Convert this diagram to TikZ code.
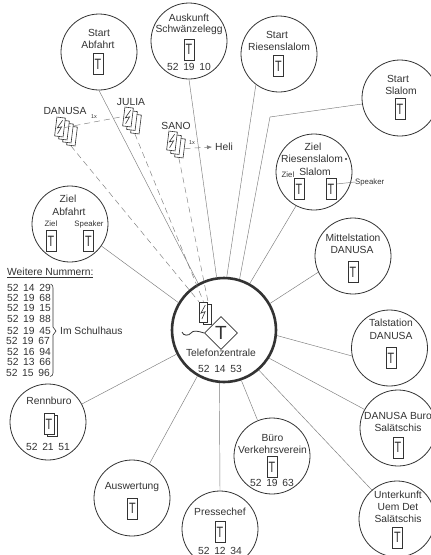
\documentclass[tikz,border=0pt]{standalone}
\usepackage{fontspec}
\setmainfont{Liberation Sans}
\usetikzlibrary{shapes.geometric,arrows.meta}
\definecolor{ink}{HTML}{333333}
\definecolor{wire}{HTML}{7C7C7C}
\newcommand{\nrs}[3]{#1\hspace{4.6pt}#2\hspace{4.6pt}#3}
\newcommand{\tT}{\scalebox{.72}[1]{T}}
\newcommand{\boltat}[2]{\draw[ink,line width=.6pt,rotate around={#2:(#1)}] ([shift={(1.8,-7)}]#1) -- ([shift={(-2.6,1.2)}]#1) -- ([shift={(1.6,-.4)}]#1) -- ([shift={(-1.6,7)}]#1);}
\tikzset{
  x=1pt,y=-1pt,
  stn/.style={circle,draw=ink,line width=.8pt,minimum size=76,inner sep=0,fill=white},
  txt/.style={font=\fontsize{10.3}{12}\selectfont,text=ink,inner sep=0},
  small/.style={font=\fontsize{7.8}{9}\selectfont,text=ink,inner sep=0},
  tiny/.style={font=\fontsize{5.5}{7}\selectfont,text=ink,inner sep=0},
  phone/.style={draw=ink,line width=.6pt,minimum width=10,minimum height=21,inner sep=0,text=ink,font=\fontsize{15}{15}\selectfont,fill=white},
  card/.style={draw=ink,line width=.6pt,minimum width=8.5,minimum height=19,inner sep=0,fill=white},
  link/.style={draw=wire,line width=.45pt},
  dlink/.style={draw=wire,line width=.45pt,dash pattern=on 6pt off 4pt},
}
\begin{document}
\begin{tikzpicture}
\useasboundingbox (0,0) rectangle (431,555);
\clip (0,0) rectangle (431,555);
\fill[white] (0,0) rectangle (431,555);
% stations
\node[stn] (abf) at (99,52) {};
\node[stn] (ausk) at (189,41) {};
\node[stn] (riesen) at (279,54) {};
\node[stn] (slalom) at (400,98) {};
\node[stn] (zielr) at (314,172) {};
\node[stn] (mittel) at (353,256) {};
\node[stn] (tal) at (389.5,348) {};
\node[stn] (buro) at (398,428) {};
\node[stn] (unter) at (397,519) {};
\node[stn] (verk) at (272,456) {};
\node[stn] (presse) at (220,529) {};
\node[stn] (ausw) at (132,498) {};
\node[stn] (renn) at (48,422) {};
\node[stn] (ziela) at (70,224) {};
\node[circle,draw=ink,line width=2.6pt,minimum size=104,inner sep=0,fill=white] (hub) at (224,330) {};
% connectors
\draw[link] (abf.270) -- (hub.119);
\draw[link] (ausk.270) -- (hub.98);
\draw[link] (riesen.233) -- (hub.87);
\coordinate (bend) at (270,117);
\draw[link] (slalom.189) -- (bend) -- (hub.73);
\draw[link] (zielr.242) -- (hub.61);
\draw[link] (mittel.205) -- (hub.30);
\draw[link] (tal.192) -- (hub.-6);
\draw[link] (buro.151) -- (hub.-32);
\draw[link] (unter.131) -- (hub.-49);
\draw[link] (verk.112) -- (hub.-71);
\draw[link] (presse.90) -- (hub.-95);
\draw[link] (ausw.63) -- (hub.240);
\draw[link] (renn.28) -- (hub.207);
\draw[link] (ziela.-35) -- (hub.149);
% radio stacks
\node[card,rotate=-7] (d3) at (72,136) {};
\node[card,rotate=-7] (d2) at (68,133) {};
\node[card,rotate=-7] (d1) at (64,130) {};
\node[card,rotate=-7] (d0) at (60,127) {};
\boltat{60,127}{-7}
\node[card,rotate=-7] (j2) at (136,124) {};
\node[card,rotate=-7] (j1) at (132,120.5) {};
\node[card,rotate=-7] (j0) at (128,117) {};
\boltat{128,117}{-7}
\node[card,rotate=-7] (s2) at (180,148) {};
\node[card,rotate=-7] (s1) at (176,144.5) {};
\node[card,rotate=-7] (s0) at (172,141) {};
\boltat{172,141}{-7}
% hub icon
\node[card,minimum height=20] (hb) at (207.5,314) {};
\node[card,minimum height=20] (ha) at (203.5,312) {};
\boltat{203.5,312}{0}
\draw[dlink] (d3.south) -- (ha.north west);
\draw[dlink] (j2.south) -- (ha.north);
\draw[dlink] (s2.south) -- (ha.north east);
\draw[dlink] (d0.east) -- (j0.west);
\coordinate (heliend) at (212,147);
\draw[dlink,-{Latex[length=5pt,width=4pt]}] (s2.east) -- (heliend);
\node[diamond,draw=ink,line width=.8pt,minimum size=33,inner sep=0,text=ink,font=\fontsize{19}{19}\selectfont] (tel) at (221,333) {T};
\coordinate (hookend) at (182,332);
\draw[ink,line width=.8pt] (hookend) .. controls (183,336) and (189,336) .. (191,333) .. controls (193,330) and (198,331) .. (tel.west);
% labels
\node[txt] (l1) at (65,111) {DANUSA};
\node[txt] (l2) at (131,102) {JULIA};
\node[txt] (l3) at (176,126) {SANO};
\node[tiny] (l4) at (94,117) {1x};
\node[tiny] (l5) at (192,143) {1x};
\node[txt,anchor=west] (l6) at (215,147) {Heli};
\node[txt] (a1) at (99,33) {Start};
\node[txt] (a2) at (98,45) {Abfahrt};
\node[phone] (a3) at (98,64) {\tT};
\node[txt] (b1) at (189,17.5) {Auskunft};
\node[txt] (b2) at (189,30) {Schwänzelegg};
\node[phone] (b3) at (189,49.5) {\tT};
\node[txt] (b4) at (189,67) {\nrs{52}{19}{10}};
\node[txt] (c1) at (277,35) {Start};
\node[txt] (c2) at (279,47) {Riesenslalom};
\node[phone] (c3) at (278.5,66) {\tT};
\node[txt] (e1) at (398,79) {Start};
\node[txt] (e2) at (401,91) {Slalom};
\node[phone] (e3) at (400,109) {\tT};
\node[txt] (f1) at (313,147) {Ziel};
\node[txt] (f2) at (312,159) {Riesenslalom};
\node[circle,fill=ink,inner sep=0,minimum size=2.2] (f3) at (346,159) {};
\node[txt] (f4) at (315,172) {Slalom};
\node[small] (f5) at (288,175) {Ziel};
\node[phone] (f6) at (299,189) {\tT};
\node[phone] (f7) at (331,189) {\tT};
\node[small,anchor=west] (f8) at (355,182) {Speaker};
\draw[link] (f7.east |- 0,184) -- (f8.west);
\node[txt] (g1) at (353,238) {Mittelstation};
\node[txt] (g2) at (352,250) {DANUSA};
\node[phone] (g3) at (353,272) {\tT};
\node[txt] (h1) at (391,323) {Talstation};
\node[txt] (h2) at (391,336) {DANUSA};
\node[phone] (h3) at (391,358) {\tT};
\node[txt] (i1) at (398,416) {DANUSA Buro};
\node[txt] (i2) at (398,428) {Salätschis};
\node[phone] (i3) at (398,447.5) {\tT};
\node[txt] (k1) at (398,495) {Unterkunft};
\node[txt] (k2) at (398,507) {Uem Det};
\node[txt] (k3) at (398,519) {Salätschis};
\node[phone] (k4) at (397.5,537.5) {\tT};
\node[txt] (m1) at (272.5,438) {Büro};
\node[txt] (m2) at (272.5,450) {Verkehrsverein};
\node[phone] (m3) at (272,467) {\tT};
\node[txt] (m4) at (272,483) {\nrs{52}{19}{63}};
\node[txt] (n1) at (220,512) {Pressechef};
\node[phone] (n2) at (220,532) {\tT};
\node[txt] (n3) at (220,550.5) {\nrs{52}{12}{34}};
\node[txt] (o1) at (132,487) {Auswertung};
\node[phone] (o2) at (132.5,508.5) {\tT};
\node[draw=ink,line width=.6pt,minimum width=10,minimum height=21,inner sep=0,fill=white] (q0) at (52,426) {};
\node[phone] (q2) at (49,424) {\tT};
\node[txt] (q1) at (49,401) {Rennburo};
\node[txt] (q3) at (48,447) {\nrs{52}{21}{51}};
\node[txt] (r1) at (68,199) {Ziel};
\node[txt] (r2) at (69,212) {Abfahrt};
\node[small] (r3) at (51,224) {Ziel};
\node[small] (r4) at (89,224) {Speaker};
\node[phone] (r5) at (51,241) {\tT};
\node[phone] (r6) at (88.5,241) {\tT};
\node[txt] (u1) at (221,353) {Telefonzentrale};
\node[txt] (u2) at (220,369) {\nrs{52}{14}{53}};
% list
\node[txt,anchor=west] (w0) at (7,273) {\underline{Weitere Nummern:}};
\node[txt,anchor=west] (w1) at (7,288) {\nrs{52}{14}{29}};
\node[txt,anchor=west] (w2) at (7,298) {\nrs{52}{19}{68}};
\node[txt,anchor=west] (w3) at (7,308) {\nrs{52}{19}{15}};
\node[txt,anchor=west] (w4) at (7,319) {\nrs{52}{19}{88}};
\node[txt,anchor=west] (w5) at (7,331) {\nrs{52}{19}{45}};
\node[txt,anchor=west] (w6) at (6,341) {\nrs{52}{19}{67}};
\node[txt,anchor=west] (w7) at (7,352) {\nrs{52}{16}{94}};
\node[txt,anchor=west] (w8) at (7,362) {\nrs{52}{13}{66}};
\node[txt,anchor=west] (w9) at (6,373) {\nrs{52}{15}{96}};
\node[txt,anchor=west] (w10) at (60,331) {Im Schulhaus};
\draw[ink,line width=.6pt] (50.5,284) .. controls (52.5,284.5) and (53,286) .. (53,288) -- (53,327) -- (56,331) -- (53,335) -- (53,373) .. controls (53,375) and (52,376) .. (50,376.5);
\end{tikzpicture}
\end{document}
